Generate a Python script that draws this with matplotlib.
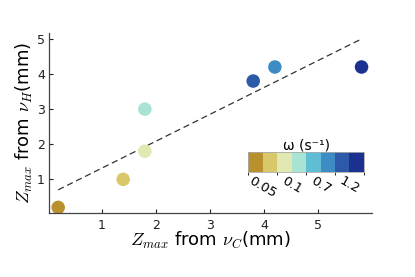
import matplotlib
matplotlib.use("Agg")
import matplotlib.pyplot as plt
from matplotlib.colors import ListedColormap, BoundaryNorm
import matplotlib.colorbar as mcolorbar
import numpy as np

plt.rcParams['mathtext.fontset'] = 'cm'
plt.rcParams['font.family'] = ['DejaVu Sans']

# data
z_from_nuC = [0.2, 1.4, 1.8, 1.8, 3.8, 4.2, 5.8]
z_from_nuH = [0.2, 1.0, 1.8, 3.0, 3.8, 4.2, 4.2]
color_index = [0, 1, 2, 3, 6, 5, 7]
fit_x = [0.2, 5.8]
fit_y = [0.7, 5.0]
palette = ['#b8912e', '#d9c86a', '#e2e8b2', '#a9e3d4',
           '#5fbdd4', '#3d8dc4', '#2d5aa8', '#1b3190']
cbar_ticks = [1, 3, 5, 7]
cbar_labels = ['0.05', '0.1', '0.7', '1.2']
xticks = [1, 2, 3, 4, 5]
yticks = [1, 2, 3, 4, 5]

fig = plt.figure(figsize=(4.15, 2.77), dpi=100)
ax = fig.add_axes([0.118, 0.231, 0.778, 0.65])

cmap = ListedColormap(palette)
norm = BoundaryNorm(np.arange(len(palette) + 1), cmap.N)

ax.plot(fit_x, fit_y, ls=(0, (5, 3)), color='#333333', lw=0.9, zorder=1)
ax.scatter(z_from_nuC, z_from_nuH, c=[palette[i] for i in color_index],
           s=95, edgecolors='none', zorder=2)

ax.set_xlim(0.03, 5.99)
ax.set_ylim(0.04, 5.17)
ax.set_xticks(xticks)
ax.set_yticks(yticks)
ax.tick_params(direction='in', length=3, labelsize=9, colors='#222222', pad=4)
ax.tick_params(axis='y', pad=3)
for s in ['top', 'right']:
    ax.spines[s].set_visible(False)
for s in ['left', 'bottom']:
    ax.spines[s].set_color('#444444')
    ax.spines[s].set_linewidth(0.9)

ax.set_xlabel(r'$Z_{max}$ from $\nu_C$(mm)', fontsize=13, labelpad=-1)
ax.set_ylabel(r'$Z_{max}$ from $\nu_H$(mm)', fontsize=13, labelpad=1)

cax = fig.add_axes([0.598, 0.379, 0.279, 0.072])
cb = mcolorbar.ColorbarBase(cax, cmap=cmap, norm=norm, orientation='horizontal')
cb.outline.set_edgecolor('#aaaaaa')
cb.outline.set_linewidth(0.6)
cb.set_ticks(cbar_ticks)
cb.set_ticklabels(cbar_labels)
cax.tick_params(length=0, labelsize=9.5, pad=2)
for lab in cax.get_xticklabels():
    lab.set_rotation(-30)
    lab.set_ha('center')
    lab.set_va('top')
cax.set_title('ω (s⁻¹)', fontsize=10, pad=2)

fig.savefig('out.png', dpi=100)
